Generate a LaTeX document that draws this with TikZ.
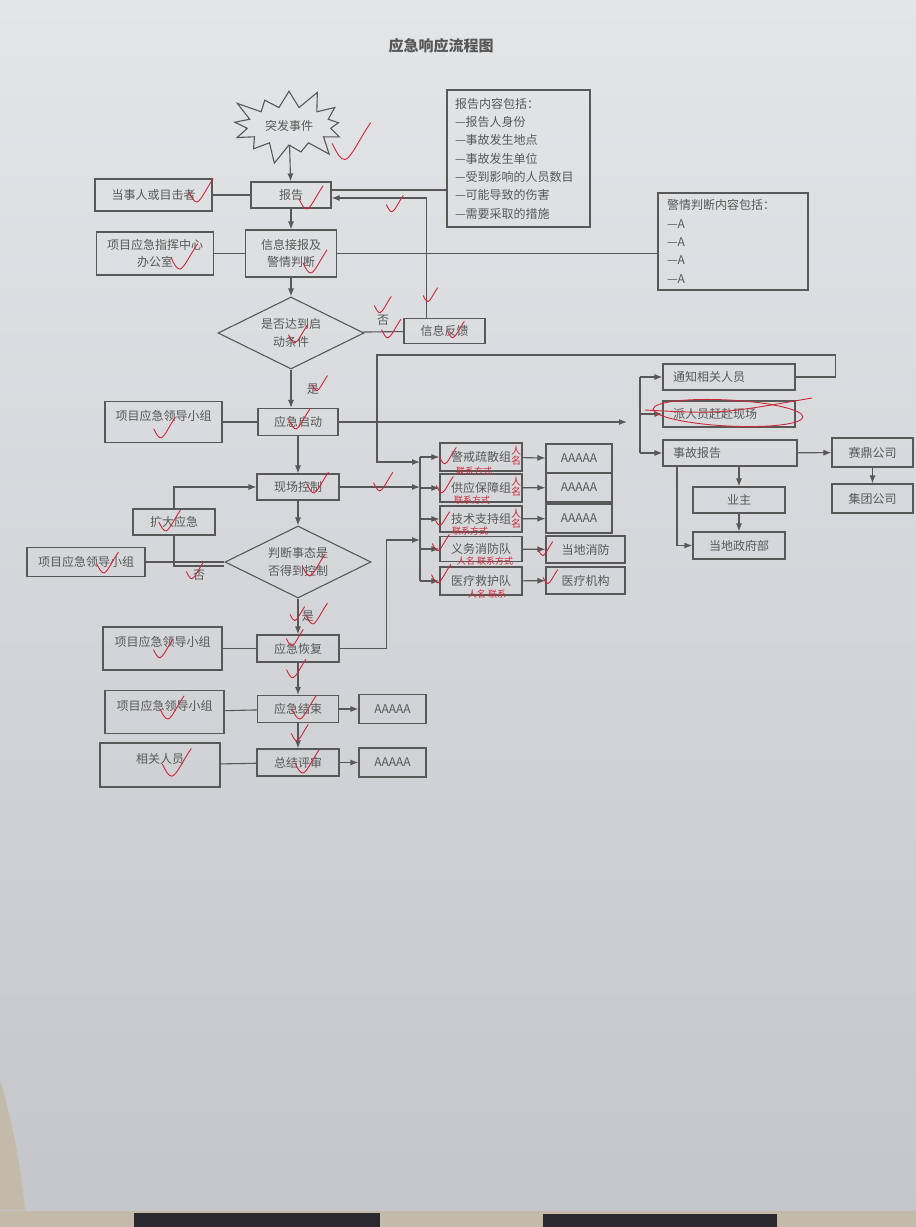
\documentclass[tikz,border=0pt]{standalone}
\usepackage{fontspec}
\setmainfont{Noto Sans CJK SC}
\usetikzlibrary{shapes.geometric,shapes.symbols,arrows.meta}
\definecolor{paper}{RGB}{227,229,231}
\definecolor{shadow}{RGB}{196,198,202}
\definecolor{desk}{RGB}{196,186,170}
\definecolor{dark}{RGB}{42,42,46}
\definecolor{ink}{RGB}{88,88,88}
\definecolor{pen}{RGB}{205,40,55}
\tikzset{
  dims/.style 2 args={minimum width=#1pt, minimum height=#2pt},
  redpen/.style={pen, line width=0.9pt, line cap=round},
}
\newcommand{\chkmark}[2][1]{\draw[redpen, shift={(#2)}, scale=#1] (-8,-9) .. controls (-5,-3) and (-3,1) .. (0,1) .. controls (4,0) and (9,-12) .. (16,-22);}
\begin{document}
\pgfmathsetseed{7}
\begin{tikzpicture}[x=1pt, y=-1pt, >={Latex[length=8pt,width=6pt]}, line width=1.1pt, color=ink, font=\fontsize{12}{17.5}\selectfont]
  \fill[desk] (0,0) rectangle (916,1227);
  \shade[top color=paper, bottom color=shadow] (0,0) rectangle (916,1210);
  \fill[desk] (0,1080) .. controls (15,1130) and (22,1180) .. (25,1210) -- (0,1210) -- cycle;
  \fill[dark] (134,1213) rectangle (380,1227);
  \fill[dark] (543,1214) rectangle (777,1227);
  \useasboundingbox (0,0) rectangle (916,1227);
  \node (0) at (441,46) {\fontsize{15}{18}\selectfont\bfseries 应急响应流程图};

  \begin{scope}[every node/.style={draw, rectangle, inner sep=2pt}]

    \node[starburst, starburst points=13, starburst point height=22pt, dims={128}{82}] (1) at (289,126) {突发事件};
    \node[dims={80}{26}] (2) at (291,195) {报告};
    \node[dims={117}{32}] (3) at (153.5,195) {当事人或目击者};
    \node[dims={91}{47}, align=center] (4) at (291,253.5) {信息接报及\\警情判断};
    \node[dims={117}{43}, align=center] (5) at (155,253.5) {项目应急指挥中心\\办公室};
    \node[dims={143}{137}, text width=127pt, align=left, font=\fontsize{12}{18.3}\selectfont] (6) at (518.5,158.5)
      {报告内容包括：\\—报告人身份\\—事故发生地点\\—事故发生单位\\—受到影响的人员数目\\—可能导致的伤害\\—需要采取的措施};
    \node[dims={150}{97}, text width=132pt, align=left, font=\fontsize{12}{18.3}\selectfont] (7) at (733,241.5)
      {警情判断内容包括：\\—A\\—A\\—A\\—A};
    \node[diamond, aspect=2, inner sep=0pt, dims={146}{72}, align=center] (8) at (291,333) {是否达到启\\动条件};
    \node[dims={81}{25}] (9) at (444.5,331) {信息反馈};

    \node[dims={80}{27}] (10) at (298,422) {应急启动};
    \node[dims={117}{41}, text depth=14pt] (11) at (163.5,422) {项目应急领导小组};
    \node[dims={82}{26}] (12) at (298,487) {现场控制};
    \node[dims={82}{26}] (13) at (174,522) {扩大应急};
    \node[dims={118}{29}] (14) at (86,562) {项目应急领导小组};
    \node[diamond, aspect=2, inner sep=0pt, dims={146}{72}, align=center] (15) at (298,562) {判断事态是\\否得到控制};
    \node[dims={82}{27}] (16) at (298,648.5) {应急恢复};
    \node[dims={119}{43}, text depth=14pt] (17) at (162.5,648.5) {项目应急领导小组};
    \node[dims={81}{27}] (18) at (298,709) {应急结束};
    \node[dims={67}{29}] (19) at (392.5,709) {AAAAA};
    \node[dims={119}{43}, text depth=14pt] (20) at (164.5,712) {项目应急领导小组};
    \node[dims={82}{27}] (21) at (298,762.5) {总结评审};
    \node[dims={67}{29}] (22) at (392.5,762.5) {AAAAA};
    \node[dims={120}{44}, text depth=14pt] (23) at (160,765) {相关人员};

    \node[dims={132}{26}, text width=112pt, inner xsep=10pt, align=left] (24) at (729,377) {通知相关人员};
    \node[dims={132}{26}, text width=112pt, inner xsep=10pt, align=left] (25) at (729,414) {派人员赶赴现场};
    \node[dims={134}{26}, text width=114pt, inner xsep=10pt, align=left] (26) at (730,453) {事故报告};
    \node[dims={81}{29}] (27) at (872.5,452.5) {赛鼎公司};
    \node[dims={81}{29}] (28) at (872.5,498.5) {集团公司};
    \node[dims={92}{26}] (29) at (739,500) {业主};
    \node[dims={92}{27}] (30) at (739,545.5) {当地政府部};

    \node[dims={82}{28}] (31) at (481,457) {警戒疏散组};
    \node[dims={82}{28}] (32) at (481,488) {供应保障组};
    \node[dims={82}{26}] (33) at (481,519) {技术支持组};
    \node[dims={82}{25}] (34) at (481,549) {义务消防队};
    \node[dims={82}{28}] (35) at (481,581) {医疗救护队};
    \node[dims={66}{29}] (36) at (579,458.5) {AAAAA};
    \node[dims={66}{29}] (37) at (579,487.5) {AAAAA};
    \node[dims={66}{29}] (38) at (579,518.5) {AAAAA};
    \node[dims={79}{27}] (39) at (585.5,549.5) {当地消防};
    \node[dims={79}{27}] (40) at (585.5,580.5) {医疗机构};

  \end{scope}

  \coordinate (a) at (640,0);
  \coordinate (b) at (420,0);
  \coordinate (c) at (627,422);
  \coordinate (d) at (420,462);
  \coordinate (f) at (420,540);
  \coordinate (r) at ([yshift=5pt]2.east);

  \path[->] (1) edge (2);
  \path (3) edge (2);
  \path[->] (2) edge (4);
  \path (5) edge (4);
  \path[->] (4) edge (8);
  \draw (r) -- (r-|6.west);
  \draw[->] ([xshift=-18pt]9.north) |- ([yshift=-3pt]2.east);
  \draw (4.east) -- (4.east-|7.west);
  \path (8) edge node[anchor=south, yshift=2pt] {否} (9);
  \draw[->] (8.south) -- node[anchor=west, xshift=12pt] {是} (8.south|-10.north);

  \path (11) edge (10);
  \path[->] (10) edge (c);
  \draw (a|-24) -- (a|-26);
  \path[->] (a|-24) edge (24);
  \path[->] (a|-25) edge (25);
  \path[->] (a|-26) edge (26);
  \path[->] (26) edge (27);
  \path[->] (27) edge (28);
  \path[->] (26.south-|29.north) edge (29);
  \path[->] (29) edge (30);
  \draw[->] ([xshift=-53pt]26.south) |- (30);
  \draw[->] (24.east) -- ++(40,0) |- (377,355) |- (d);

  \draw (b|-31) -- (b|-35);
  \path[->] (b|-31) edge (31);
  \path[->] (b|-32) edge (32);
  \path[->] (b|-33) edge (33);
  \path[->] (b|-34) edge (34);
  \path[->] (b|-35) edge (35);
  \path[->] (31) edge (36);
  \path[->] (32) edge (37);
  \path[->] (33) edge (38);
  \path[->] (34) edge (39);
  \path[->] (35) edge (40);

  \path[->] (10) edge (12);
  \path[->] (12) edge (b|-12);
  \draw[->] (13.north) |- (12);
  \draw (13.south) |- node[pos=0.75, anchor=north] {否} ([yshift=-4pt]15.west);
  \path (14) edge (15);
  \path[->] (12) edge (15);
  \path[->] (15) edge node[anchor=west] {是} (16);
  \draw[->] (16.east) -- ++(47,0) |- (f);
  \path (17) edge (16);
  \path[->] (16) edge (18);
  \path (20) edge (18);
  \path[->] (18) edge (19);
  \path[->] (18) edge (21);
  \path (23) edge (21);
  \path[->] (21) edge (22);

  \chkmark[1.6]{345,158}
  \chkmark{197,201}
  \chkmark{307,208}
  \chkmark[0.7]{392,211}
  \chkmark[1.1]{180,268}
  \chkmark{311,272}
  \chkmark[0.6]{428,301}
  \chkmark[0.7]{380,312}
  \chkmark[0.8]{388,337}
  \chkmark[0.8]{295,342}
  \chkmark[0.7]{453,337}
  \chkmark[0.65]{317,390}
  \chkmark[0.9]{161,437}
  \chkmark[0.9]{296,428}
  \chkmark[0.8]{380,490}
  \chkmark[0.9]{314,492}
  \chkmark[0.9]{166,530}
  \chkmark[0.9]{104,572}
  \chkmark[0.7]{192,578}
  \chkmark[0.9]{310,575}
  \chkmark[0.6]{295,620}
  \chkmark[0.9]{313,623}
  \chkmark[0.8]{160,657}
  \chkmark[0.7]{292,645}
  \chkmark[0.8]{293,677}
  \chkmark{168,718}
  \chkmark{300,718}
  \chkmark[0.7]{297,740}
  \chkmark[1.2]{172,775}
  \chkmark{303,772}
  \chkmark[0.7]{445,463}
  \chkmark[0.7]{442,492}
  \chkmark[0.6]{440,525}
  \chkmark[0.7]{438,550}
  \chkmark[0.8]{438,582}
  \chkmark[0.6]{543,555}
  \chkmark[0.6]{548,583}
  \draw[redpen, rotate around={-3:(728,413)}] (728,413) ellipse [x radius=75, y radius=13];
  \draw[redpen] (645,410) .. controls (720,414) .. (812,398);

  \begin{scope}[every node/.style={pen, inner sep=0pt}]
    \node[align=center, font=\fontsize{10}{10}\selectfont] (41) at (516,456) {人\\名};
    \node[font=\fontsize{9}{9}\selectfont] (42) at (474,471) {联系方式};
    \node[align=center, font=\fontsize{10}{10}\selectfont] (43) at (516,487) {人\\名};
    \node[font=\fontsize{9}{9}\selectfont] (44) at (472,500) {联系方式};
    \node[align=center, font=\fontsize{10}{10}\selectfont] (45) at (516,519) {人\\名};
    \node[font=\fontsize{9}{9}\selectfont] (46) at (470,531) {联系方式};
    \node[font=\fontsize{9}{9}\selectfont] (47) at (485,561) {人名\ 联系方式};
    \node[font=\fontsize{9}{9}\selectfont] (48) at (487,594) {人名\ 联系};
  \end{scope}
\end{tikzpicture}
\end{document}
